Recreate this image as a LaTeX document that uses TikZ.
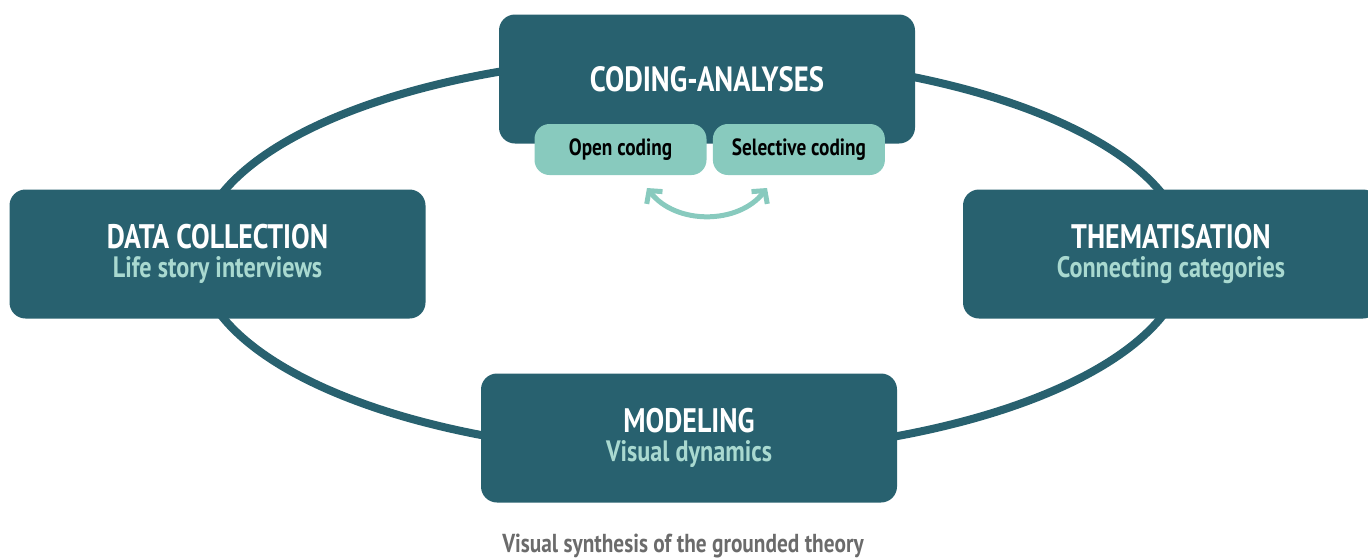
\documentclass[tikz,border=0pt]{standalone}
\usepackage{fontspec}
\setmainfont{PT Sans}[FakeStretch=0.82]
\usetikzlibrary{positioning, arrows.meta}

\definecolor{stagecol}{HTML}{28616F}
\definecolor{subcol}{HTML}{88CABE}
\definecolor{lightcol}{HTML}{A9D9D0}
\definecolor{notecol}{HTML}{6B6B6B}

\newcommand{\stagetitle}[2]{{\fontsize{34}{29}\selectfont\color{white}#1}\\{\fontsize{29.5}{29}\selectfont\color{lightcol}#2}}

\begin{document}
\begin{tikzpicture}[
    x=1pt, y=-1pt,
    stage/.style={rectangle, rounded corners=16pt, fill=stagecol, minimum width=416pt, minimum height=129pt, inner sep=0pt, align=center, font=\bfseries\fontsize{30}{29}\selectfont},
    substage/.style={rectangle, rounded corners=15pt, fill=subcol, minimum width=172pt, minimum height=51pt, inner sep=0pt, font=\bfseries\fontsize{23.5}{26}\selectfont},
    ring/.style={draw=stagecol, line width=8pt},
    cycle/.style={{Straight Barb[length=9pt,width=20pt]}-{Straight Barb[length=9pt,width=20pt]}, draw=subcol, line width=5pt}
]
    \useasboundingbox (0,0) rectangle (1368,558);

    % Cycle behind the stages
    \draw[ring] (692,255) ellipse [x radius=494, y radius=199];

    % Stages
    \node[stage] (coding) at (707,79) {{\fontsize{35}{38}\selectfont\color{white}CODING-ANALYSES}};
    \node[stage] (collect) at (217.5,254) {\stagetitle{DATA COLLECTION}{Life story interviews}};
    \node[stage] (theme) at (1171,254) {\stagetitle{THEMATISATION}{Connecting categories}};
    \node[stage] (model) at (689,438) {\stagetitle{MODELING}{Visual dynamics}};

    % Coding steps
    \node[substage] (open) at (620.5,149.5) {Open coding};
    \node[substage, right=6pt of open] (select) {Selective coding};

    \coordinate (backA) at (647,188);
    \coordinate (backB) at (767,188);
    \draw[cycle] (backA) to[bend right=52] (backB);

    % Caption
    \node[font=\bfseries\fontsize{26}{28}\selectfont, text=notecol] (note) at (683,546) {Visual synthesis of the grounded theory};
\end{tikzpicture}
\end{document}
